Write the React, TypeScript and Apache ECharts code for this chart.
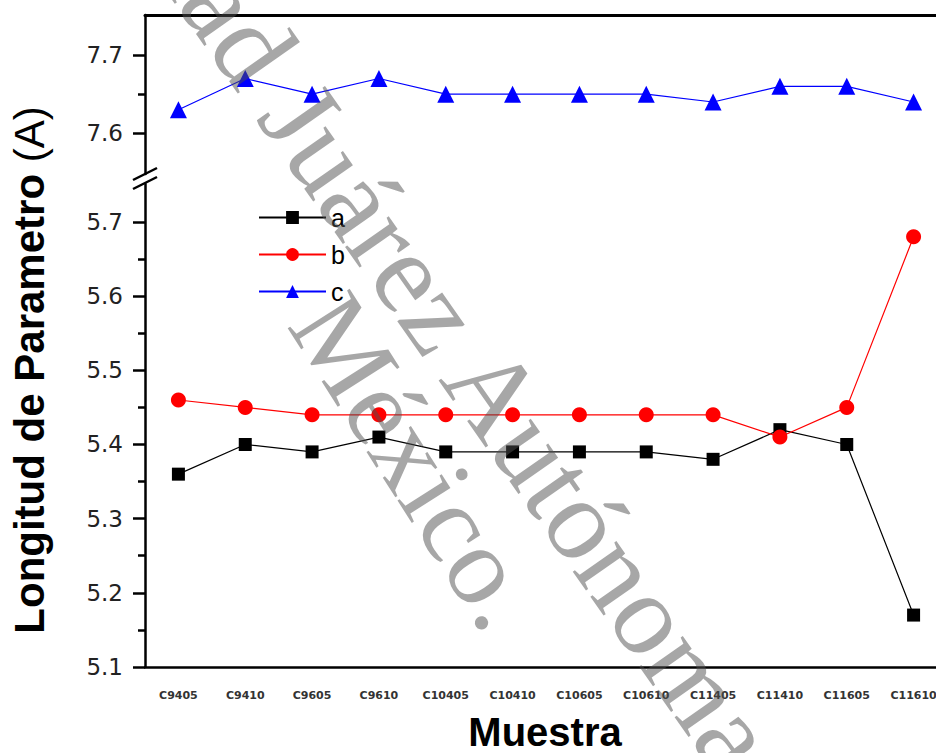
import React, { useEffect, useRef } from "react";
import * as echarts from "echarts";

const categories = ["C9405", "C9410", "C9605", "C9610", "C10405", "C10410", "C10605", "C10610", "C11405", "C11410", "C11605", "C11610"];
const seriesA = [5.36, 5.40, 5.39, 5.41, 5.39, 5.39, 5.39, 5.39, 5.38, 5.42, 5.40, 5.17];
const seriesB = [5.46, 5.45, 5.44, 5.44, 5.44, 5.44, 5.44, 5.44, 5.44, 5.41, 5.45, 5.68];
const seriesC = [7.63, 7.67, 7.65, 7.67, 7.65, 7.65, 7.65, 7.65, 7.64, 7.66, 7.66, 7.64];
const lowerTicks = [5.1, 5.2, 5.3, 5.4, 5.5, 5.6, 5.7];
const lowerMinorTicks = [5.15, 5.25, 5.35, 5.45, 5.55, 5.65];
const upperTicks = [7.6, 7.7];
const upperMinorTicks = [7.65];

export default function App() {
  const ref = useRef<HTMLDivElement>(null);
  useEffect(() => {
    const chart = echarts.init(ref.current!, null, { renderer: "svg" });
    const axisLineStyle = { color: "#000", width: 2.5 };
    const option: any = {
      animation: false,
      backgroundColor: "#fff",
      grid: [
        { left: 145, top: 184, width: 802, bottom: 86, outerBoundsMode: "none", containLabel: false },
        { left: 145, top: 15, width: 802, height: 159, outerBoundsMode: "none", containLabel: false },
      ],
      xAxis: [
        {
          type: "category", gridIndex: 0, data: categories, position: "bottom",
          axisLine: { lineStyle: axisLineStyle },
          axisTick: { alignWithLabel: true, length: 13, lineStyle: { width: 2.5, color: "#000" } },
          axisLabel: { margin: 23, fontSize: 11, fontWeight: "bold", fontFamily: "DejaVu Sans", color: "#333", interval: 0, hideOverlap: false },
          splitLine: { show: false },
        },
        {
          type: "category", gridIndex: 0, data: categories, position: "bottom",
          axisLine: { show: false },
          axisTick: { length: 7, lineStyle: { width: 2.5, color: "#000" } },
          axisLabel: { show: false },
          splitLine: { show: false },
        },
        {
          type: "category", gridIndex: 1, data: categories, position: "top",
          axisLine: { lineStyle: { color: "#000", width: 3 } },
          axisTick: { show: false },
          axisLabel: { show: false },
          splitLine: { show: false },
        },
      ],
      yAxis: [
        {
          type: "value", gridIndex: 0, min: 5.1, max: 5.7512,
          axisLine: { show: true, lineStyle: axisLineStyle },
          axisTick: { show: true, length: 12, customValues: lowerTicks, lineStyle: { width: 2.5, color: "#000" } },
          axisLabel: { customValues: lowerTicks, margin: 22, fontSize: 23, fontFamily: "DejaVu Sans", color: "#222", formatter: (v: number) => v.toFixed(1) },
          splitLine: { show: false },
        },
        {
          type: "value", gridIndex: 0, min: 5.1, max: 5.7512, position: "left",
          axisLine: { show: false },
          axisTick: { show: true, length: 7, customValues: lowerMinorTicks, lineStyle: { width: 2.5, color: "#000" } },
          axisLabel: { show: false },
          splitLine: { show: false },
        },
        {
          type: "value", gridIndex: 1, min: 7.548, max: 7.7511,
          axisLine: { show: true, lineStyle: axisLineStyle },
          axisTick: { show: true, length: 12, customValues: upperTicks, lineStyle: { width: 2.5, color: "#000" } },
          axisLabel: { customValues: upperTicks, margin: 22, fontSize: 23, fontFamily: "DejaVu Sans", color: "#222", formatter: (v: number) => v.toFixed(1) },
          splitLine: { show: false },
        },
        {
          type: "value", gridIndex: 1, min: 7.548, max: 7.7511, position: "left",
          axisLine: { show: false },
          axisTick: { show: true, length: 7, customValues: upperMinorTicks, lineStyle: { width: 2.5, color: "#000" } },
          axisLabel: { show: false },
          splitLine: { show: false },
        },
      ],
      legend: {
        data: ["a", "b", "c"], orient: "vertical", left: 258, top: 205, padding: 0,
        itemWidth: 67, itemHeight: 16, itemGap: 12,
        textStyle: { fontSize: 25, color: "#000", fontFamily: "Liberation Sans", lineHeight: 25 },
      },
      series: [
        {
          name: "a", type: "line", xAxisIndex: 0, yAxisIndex: 0, data: seriesA,
          symbol: "rect", symbolSize: 13, color: "#000",
          lineStyle: { color: "#000", width: 1.2 }, itemStyle: { color: "#000" },
        },
        {
          name: "b", type: "line", xAxisIndex: 0, yAxisIndex: 0, data: seriesB,
          symbol: "circle", symbolSize: 15, color: "#ff0000",
          lineStyle: { color: "#ff0000", width: 1.2 }, itemStyle: { color: "#ff0000" },
        },
        {
          name: "c", type: "line", xAxisIndex: 2, yAxisIndex: 2, data: seriesC,
          symbol: "triangle", symbolSize: 17, color: "#0000ff",
          lineStyle: { color: "#0000ff", width: 1.2 }, itemStyle: { color: "#0000ff" },
        },
      ],
      graphic: [
        { type: "line", z: 50, shape: { x1: 133, y1: 180, x2: 157, y2: 168 }, style: { stroke: "#000", lineWidth: 2.5 } },
        { type: "line", z: 50, shape: { x1: 133, y1: 189, x2: 157, y2: 177 }, style: { stroke: "#000", lineWidth: 2.5 } },
        {
          type: "text", x: 29, y: 370, rotation: Math.PI / 2, z: 50,
          style: {
            text: "{b|Longitud de Parametro}{n| (A)}",
            align: "center", verticalAlign: "middle", fill: "#000",
            rich: {
              b: { fontSize: 42, fontWeight: "bold", fontFamily: "Liberation Sans", fill: "#000" },
              n: { fontSize: 42, fontWeight: "normal", fontFamily: "Liberation Sans", fill: "#000" },
            },
          },
        },
        {
          type: "text", x: 545, y: 752, z: 50,
          style: { text: "Muestra", fontSize: 40, fontWeight: "bold", fontFamily: "Liberation Sans", fill: "#000", align: "center", verticalAlign: "bottom" },
        },
        {
          type: "text", x: -55, y: -392, rotation: -55 * Math.PI / 180, z: 100,
          style: { text: "Universidad Juárez Autónoma", fontSize: 116, fontFamily: "Liberation Serif", fill: "rgba(80,80,80,0.5)", align: "left", verticalAlign: "middle" },
        },
        {
          type: "text", x: 318, y: 305, rotation: -57.5 * Math.PI / 180, z: 100,
          style: { text: "México.", fontSize: 112, fontFamily: "Liberation Serif", fill: "rgba(80,80,80,0.5)", align: "left", verticalAlign: "middle" },
        },
      ],
    };
    chart.setOption(option);
    return () => chart.dispose();
  }, []);
  return <div ref={ref} style={{ position: "absolute", left: 0, top: 0, width: 936, height: 753 }} />;
}
